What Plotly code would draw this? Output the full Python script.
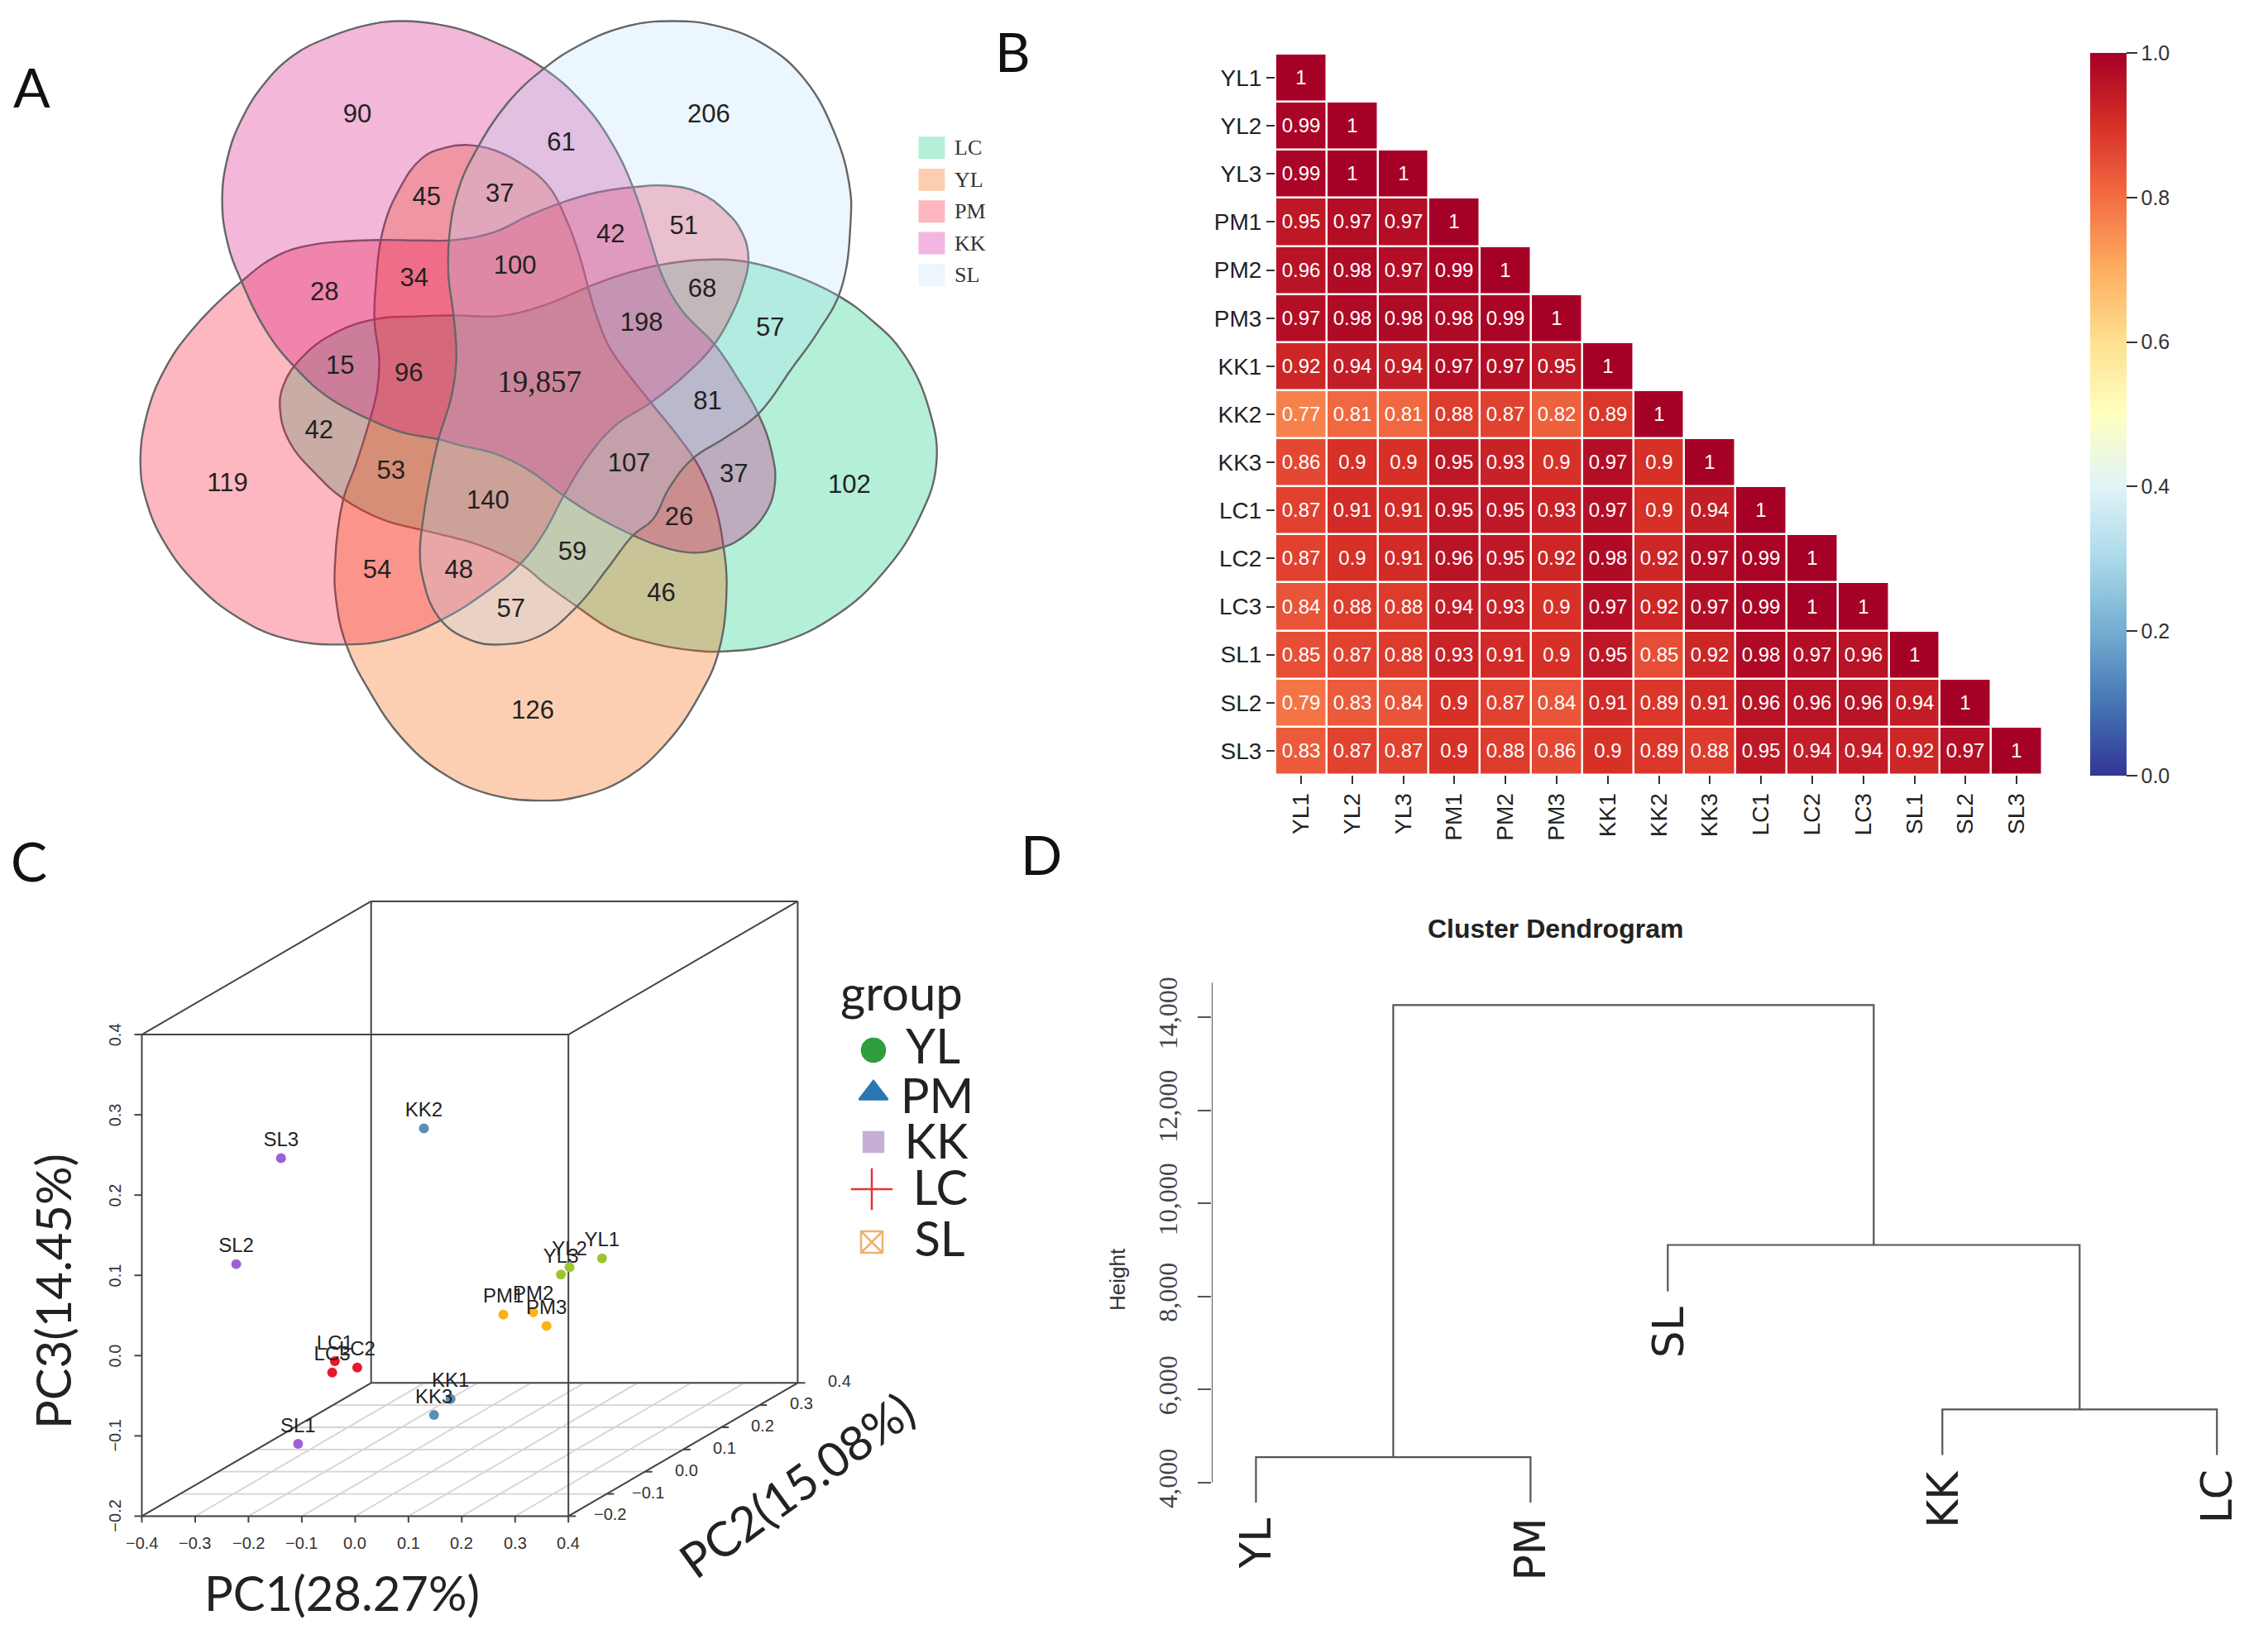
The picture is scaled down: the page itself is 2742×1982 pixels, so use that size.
import plotly.graph_objects as go

W, H = 2742, 1982

# ---------- Panel A: Venn (outline vertices in panel units) ----------
venn_names = ["LC", "YL", "PM", "KK", "SL"]
venn_colors = ["rgba(2,205,122,0.3)", "rgba(248,95,0,0.3)", "rgba(247,17,50,0.3)",
               "rgba(212,17,130,0.3)", "rgba(175,219,251,0.25)"]
lc_x = [1100,1180,1270,1340,1395,1420,1410,1370,1320,1270,1200,1135,1090,1040,990,940,890,840,790,750,690,630,570,510,460,430,425,440,480,520,580,640,690,730,790,830,875,930,990,1050,1100]
lc_y = [1235,1220,1165,1085,980,880,780,670,605,560,520,497,492,495,505,522,545,572,592,600,598,600,605,630,675,730,780,840,900,945,985,1005,1020,1035,1070,1110,1150,1195,1220,1233,1235]
yl_x = [820,740,670,610,560,525,510,508,520,540,560,572,575,568,570,580,605,640,675,710,750,790,830,860,880,893,905,925,985,1030,1060,1085,1097,1102,1090,1060,1010,950,880,820]
yl_y = [1518,1505,1465,1400,1310,1222,1140,1070,950,880,800,740,680,610,540,440,360,300,280,275,285,310,350,420,490,550,600,660,760,830,885,960,1035,1110,1235,1320,1410,1475,1510,1518]
pm_x = [525,430,360,300,250,222,213,222,250,295,365,420,470,530,580,640,690,750,800,850,905,960,1010,1060,1100,1125,1135,1125,1110,1085,1040,985,935,895,855,825,790,740,670,600,525]
pm_y = [1222,1210,1170,1110,1030,950,880,790,700,620,535,485,465,457,455,456,455,440,410,385,365,355,352,365,400,440,490,550,595,650,710,765,805,860,940,1010,1068,1120,1175,1210,1222]
kk_x = [610,680,750,825,880,925,960,985,1005,1035,1085,1120,1150,1170,1175,1160,1125,1090,1050,1000,960,905,855,800,750,700,665,610,560,500,450,405,365,345,337,345,365,400,445,500,555,610]
kk_y = [40,50,80,130,190,265,355,450,525,590,655,720,785,855,920,975,1020,1040,1048,1035,1015,980,940,890,860,845,833,820,795,755,700,630,530,460,380,300,230,160,105,70,48,40]
sl_x = [1020,1090,1160,1220,1265,1288,1290,1275,1240,1200,1150,1100,1050,1015,990,960,920,875,820,760,710,665,640,637,640,650,665,685,692,688,680,682,695,720,770,825,880,950,1020]
sl_y = [40,50,85,150,250,350,420,550,630,700,785,830,870,925,985,1015,1080,1150,1205,1222,1212,1170,1090,1040,1000,920,833,750,680,600,520,440,360,290,195,130,85,50,40]
venn_xs = [lc_x, yl_x, pm_x, kk_x, sl_x]
venn_ys = [lc_y, yl_y, pm_y, kk_y, sl_y]

count_text = ["90","206","61","45","37","42","51","100","34","28","68","57","198","15","96",
              "81","42","119","53","107","37","102","140","26","59","54","48","46","57","126"]
count_x = [542,1075,851,647,758,926,1037,781,628,492,1065,1168,973,516,620,
           1073,484,345,593,954,1113,1288,740,1030,868,572,696,1003,775,808]
count_y = [220,220,274,377,370,447,432,507,530,557,550,624,615,696,710,
           764,819,920,895,882,902,922,952,984,1049,1084,1084,1127,1157,1350]
core_text, core_x, core_y = "19,857", 818, 728

vleg_y = [280, 341, 401, 461, 521]

# ---------- Panel B: correlation ----------
samples = ["YL1","YL2","YL3","PM1","PM2","PM3","KK1","KK2","KK3","LC1","LC2","LC3","SL1","SL2","SL3"]
corr = [
 [1],
 [.99,1],
 [.99,1,1],
 [.95,.97,.97,1],
 [.96,.98,.97,.99,1],
 [.97,.98,.98,.98,.99,1],
 [.92,.94,.94,.97,.97,.95,1],
 [.77,.81,.81,.88,.87,.82,.89,1],
 [.86,.9,.9,.95,.93,.9,.97,.9,1],
 [.87,.91,.91,.95,.95,.93,.97,.9,.94,1],
 [.87,.9,.91,.96,.95,.92,.98,.92,.97,.99,1],
 [.84,.88,.88,.94,.93,.9,.97,.92,.97,.99,1,1],
 [.85,.87,.88,.93,.91,.9,.95,.85,.92,.98,.97,.96,1],
 [.79,.83,.84,.9,.87,.84,.91,.89,.91,.96,.96,.96,.94,1],
 [.83,.87,.87,.9,.88,.86,.9,.89,.88,.95,.94,.94,.92,.97,1],
]

# ---------- Panel C: PCA (read on the front plane of the box) ----------
pca_labels = ["YL1","YL2","YL3","PM1","PM2","PM3","KK1","KK2","KK3","LC1","LC2","LC3","SL1","SL2","SL3"]
pca_x = [.463,.402,.386,.278,.334,.359,.179,.129,.148,-.038,.004,-.043,-.107,-.223,-.139]
pca_y = [.121,.110,.101,.051,.054,.037,-.054,.283,-.074,-.007,-.015,-.021,-.110,.114,.246]
pca_colors = ["#9dc62d"]*3 + ["#fdb213"]*3 + ["#5a8fb5"]*3 + ["#e8192f"]*3 + ["#9c5fd6"]*3
pc1_ticks = [-.4,-.3,-.2,-.1,0,.1,.2,.3,.4]
pc2_ticks = [-.2,-.1,0,.1,.2,.3,.4]
pc3_ticks = [-.2,-.1,0,.1,.2,.3,.4]

group_names = ["YL","PM","KK","LC","SL"]
group_symbols = ["circle","triangle-up","square","cross-thin","square-x-open"]
group_colors = ["#2f9e3c","#2a76b0","#c7aed6","#e3353c","#f0b070"]
group_sizes = [28,30,24,36,26]

# ---------- Panel D: dendrogram ----------
leaf_names = ["YL","PM","SL","KK","LC"]
leaf_pos = [1,2,2.5,3.5,4.5]
leaf_bottom = [3565,3565,8102,4588,4588]
h_ylpm, h_kklc, h_sl, h_top = 4544, 5567, 9103, 14261
height_ticks = [4000,6000,8000,10000,12000,14000]
height_axis_top = 14740

fig = go.Figure()

def px(x): return x / W
def py(y): return 1 - y / H

# ---- Venn
for xs, ys, c, n in zip(venn_xs, venn_ys, venn_colors, venn_names):
    fig.add_trace(go.Scatter(x=xs, y=ys, mode="lines", fill="toself", fillcolor=c, name=n,
                             line=dict(color="#666666", width=2.4, shape="spline", smoothing=1.2),
                             xaxis="x", yaxis="y", showlegend=False, hoverinfo="skip"))
fig.add_trace(go.Scatter(x=count_x, y=count_y, text=count_text, mode="text",
                         textfont=dict(family="Liberation Sans", size=31, color="#222222"),
                         xaxis="x", yaxis="y", showlegend=False, hoverinfo="skip"))
fig.add_trace(go.Scatter(x=[core_x], y=[core_y], text=[core_text], mode="text",
                         textfont=dict(family="Liberation Serif", size=37, color="#222222"),
                         xaxis="x", yaxis="y", showlegend=False, hoverinfo="skip"))
legend_fill = ["#b3f0d7","#fdcfae","#feb6bf","#f2b6e0","#ebf6fe"]
for n, c, ly in zip(venn_names, legend_fill, vleg_y):
    fig.add_shape(type="rect", xref="x", yref="y", x0=1393, x1=1433, y0=ly-21, y1=ly+21,
                  fillcolor=c, line=dict(width=0))
    fig.add_annotation(xref="x", yref="y", x=1445, y=ly, text=n, showarrow=False, xanchor="left",
                       font=dict(family="Liberation Serif", size=26, color="#333333"))

# ---- Heatmap
n = len(samples)
z = [[corr[r][c] if c <= r else None for c in range(n)] for r in range(n)]
t = [[(f"{corr[r][c]:g}") if c <= r else "" for c in range(n)] for r in range(n)]
fig.add_trace(go.Heatmap(z=z, x=samples, y=samples, text=t, texttemplate="%{text}",
                         textfont=dict(family="Liberation Sans", size=24, color="white"),
                         colorscale="RdYlBu_r", zmin=0, zmax=1, xgap=2.5, ygap=2.5,
                         xaxis="x2", yaxis="y2", hoverinfo="skip",
                         colorbar=dict(x=px(2527), xanchor="left", y=py(501), yanchor="middle",
                                       len=874/H, lenmode="fraction", thickness=44, thicknessmode="pixels",
                                       xpad=0, ypad=0, outlinewidth=0, tickvals=[0,.2,.4,.6,.8,1],
                                       ticktext=["0.0","0.2","0.4","0.6","0.8","1.0"], ticks="outside",
                                       ticklen=13, tickwidth=2, tickcolor="#333333",
                                       tickfont=dict(family="Liberation Sans", size=25, color="#333333"))))

# ---- PCA
def proj(a, b, c):
    d = (b + .2) / .6
    return a + .43 * d, c + .166 * d

def seg_trace(segs, color, width):
    xs, ys = [], []
    for p, q in segs:
        x0, y0 = proj(*p); x1, y1 = proj(*q)
        xs += [x0, x1, None]; ys += [y0, y1, None]
    return go.Scatter(x=xs, y=ys, mode="lines", line=dict(color=color, width=width),
                      xaxis="x3", yaxis="y3", showlegend=False, hoverinfo="skip")

A0, A1 = pc1_ticks[0], pc1_ticks[-1]
B0, B1 = pc2_ticks[0], pc2_ticks[-1]
C0, C1 = pc3_ticks[0], pc3_ticks[-1]
grid = [((a,B0,C0),(a,B1,C0)) for a in pc1_ticks] + [((A0,b,C0),(A1,b,C0)) for b in pc2_ticks]
fig.add_trace(seg_trace(grid, "#d4d4d4", 1.8))
box = [((A0,B0,C0),(A1,B0,C0)),((A1,B0,C0),(A1,B0,C1)),((A1,B0,C1),(A0,B0,C1)),((A0,B0,C1),(A0,B0,C0)),
       ((A0,B1,C0),(A1,B1,C0)),((A1,B1,C0),(A1,B1,C1)),((A1,B1,C1),(A0,B1,C1)),((A0,B1,C1),(A0,B1,C0)),
       ((A0,B0,C0),(A0,B1,C0)),((A1,B0,C0),(A1,B1,C0)),((A0,B0,C1),(A0,B1,C1)),((A1,B0,C1),(A1,B1,C1))]
ticks = [((a,B0,C0),(a,B0,C0-.008)) for a in pc1_ticks] + \
        [((A0-.014,B0,c),(A0,B0,c)) for c in pc3_ticks] + \
        [((A1,b,C0),(A1+.014,b,C0)) for b in pc2_ticks]
fig.add_trace(seg_trace(box + ticks, "#444444", 2))
fig.add_trace(go.Scatter(x=pca_x, y=pca_y, text=pca_labels, mode="markers+text", textposition="top center",
                         marker=dict(color=pca_colors, size=12, line=dict(width=0)),
                         textfont=dict(family="Liberation Sans", size=24, color="#222222"),
                         xaxis="x3", yaxis="y3", showlegend=False, hoverinfo="skip"))

def fmt(v): return f"{v:.1f}".replace("-", "\u2212")
tick_font = dict(family="Liberation Sans", size=20, color="#333333")
for a in pc1_ticks:
    x, y = proj(a, B0, C0)
    fig.add_annotation(xref="x3", yref="y3", x=x, y=y-.034, text=fmt(a), showarrow=False, font=tick_font)
for c in pc3_ticks:
    x, y = proj(A0, B0, c)
    fig.add_annotation(xref="x3", yref="y3", x=x-.05, y=y, text=fmt(c), showarrow=False, font=tick_font, textangle=-90)
for b in pc2_ticks:
    x, y = proj(A1, b, C0)
    fig.add_annotation(xref="x3", yref="y3", x=x+.078, y=y+.002, text=fmt(b), showarrow=False, font=tick_font)

def paper_text(txt, x, y, font, ang=0):
    fig.add_annotation(xref="paper", yref="paper", x=px(x), y=py(y), text=txt, showarrow=False,
                       textangle=ang, font=font, xanchor="center", yanchor="middle")

big = dict(family="Lato", size=58, color="#222222")
for txt, x, y, ang in [("PC1(28.27%)", 413, 1925, 0), ("PC3(14.45%)", 63, 1562, -90), ("PC2(15.08%)", 962, 1795, -36),
                       ("group", 1090, 1199, 0)]:
    paper_text(txt, x, y, big, ang)

group_mark_x = [1056,1056,1056,1054,1054]
group_mark_y = [1270,1322,1381,1438,1502]
group_text_x = [1128,1133,1132,1137,1136]
group_text_y = [1271,1331,1386,1442,1504]
fig.add_trace(go.Scatter(x=group_mark_x, y=group_mark_y, mode="markers",
                         marker=dict(symbol=group_symbols, color=group_colors, size=group_sizes, opacity=1,
                                     line=dict(color=group_colors, width=2.5)),
                         xaxis="x5", yaxis="y5", showlegend=False, hoverinfo="skip"))
fig.add_trace(go.Scatter(x=group_text_x, y=group_text_y, text=group_names, mode="text",
                         textfont=big, xaxis="x5", yaxis="y5", showlegend=False, hoverinfo="skip"))

# ---- Dendrogram
lp = dict(zip(leaf_names, leaf_pos)); lb = dict(zip(leaf_names, leaf_bottom))
mid_ylpm = (lp["YL"] + lp["PM"]) / 2
mid_kklc = (lp["KK"] + lp["LC"]) / 2
mid_sl = (lp["SL"] + mid_kklc) / 2
dx = [lp["YL"],lp["YL"],lp["PM"],lp["PM"],None,
      lp["KK"],lp["KK"],lp["LC"],lp["LC"],None,
      lp["SL"],lp["SL"],mid_kklc,mid_kklc,None,
      mid_ylpm,mid_ylpm,mid_sl,mid_sl]
dy = [lb["YL"],h_ylpm,h_ylpm,lb["PM"],None,
      lb["KK"],h_kklc,h_kklc,lb["LC"],None,
      lb["SL"],h_sl,h_sl,h_kklc,None,
      h_ylpm,h_top,h_top,h_sl]
fig.add_trace(go.Scatter(x=dx, y=dy, mode="lines", line=dict(color="#555555", width=2.2),
                         xaxis="x4", yaxis="y4", showlegend=False, hoverinfo="skip"))
D_X0, D_X1 = .839, 4.686
fig.add_trace(go.Scatter(x=[D_X0, D_X0], y=[height_ticks[0], height_axis_top], mode="lines",
                         line=dict(color="#555555", width=2), cliponaxis=False,
                         xaxis="x4", yaxis="y4", showlegend=False, hoverinfo="skip"))
for name in leaf_names:
    fig.add_annotation(xref="x4", yref="y4", x=lp[name], y=lb[name], text=name, showarrow=False,
                       textangle=-90, yanchor="top", xanchor="center", yshift=-16,
                       font=dict(family="DejaVu Sans", size=52, color="#222222"))
paper_text("<b>Cluster Dendrogram</b>", 1880, 1123, dict(family="Liberation Sans", size=32, color="#222222"))
paper_text("Height", 1351, 1547, dict(family="Liberation Sans", size=26, color="#333333"), -90)

for txt, x, y in [("A", 38, 105), ("B", 1224, 61), ("C", 35, 1040), ("D", 1259, 1032)]:
    paper_text(txt, x, y, dict(family="Lato", size=66, color="#111111"))

hidden = dict(visible=False, showgrid=False, zeroline=False)
fig.update_layout(
    width=W, height=H, margin=dict(l=0, r=0, t=0, b=0), paper_bgcolor="white", plot_bgcolor="rgba(0,0,0,0)",
    showlegend=False,
    xaxis=dict(hidden, domain=[0, 1250/W], range=[0, 1568]),
    yaxis=dict(hidden, domain=[py(1000), 1], range=[1568, 0]),
    xaxis2=dict(domain=[px(1542), px(2469)], anchor="y2", side="bottom", ticks="outside", ticklen=10, tickwidth=2,
                tickcolor="#333333", tickangle=-90, showgrid=False, zeroline=False, showline=False,
                tickfont=dict(family="Liberation Sans", size=28, color="#222222"), constrain="domain",
                type="category"),
    yaxis2=dict(domain=[py(937), py(65)], anchor="x2", autorange="reversed", ticks="outside", ticklen=10, tickwidth=2,
                tickcolor="#333333", showgrid=False, zeroline=False, showline=False,
                tickfont=dict(family="Liberation Sans", size=28, color="#222222"), type="category"),
    xaxis3=dict(hidden, domain=[0, 1250/W], range=[-.666, 1.273]),
    yaxis3=dict(hidden, domain=[py(1980), py(1020)], range=[-.351, .638]),
    xaxis4=dict(hidden, domain=[px(1465), 1], range=[D_X0, D_X1], anchor="y4"),
    yaxis4=dict(domain=[py(1980), py(1020)], range=[670, 17732], anchor="x4", tickvals=height_ticks,
                ticktext=[f"{v:,}" for v in height_ticks], tickangle=-90, ticks="outside", ticklen=16, tickwidth=2,
                tickcolor="#555555", showline=False, showgrid=False, zeroline=False, ticklabelstandoff=12,
                tickfont=dict(family="Liberation Serif", size=32, color="#444444")),
    xaxis5=dict(hidden, domain=[0, 1], range=[0, W], anchor="y5"),
    yaxis5=dict(hidden, domain=[0, 1], range=[H, 0], anchor="x5"),
)
fig.write_html("out.html", config={"displayModeBar": False}, post_script="document.body.style.margin='0';")
